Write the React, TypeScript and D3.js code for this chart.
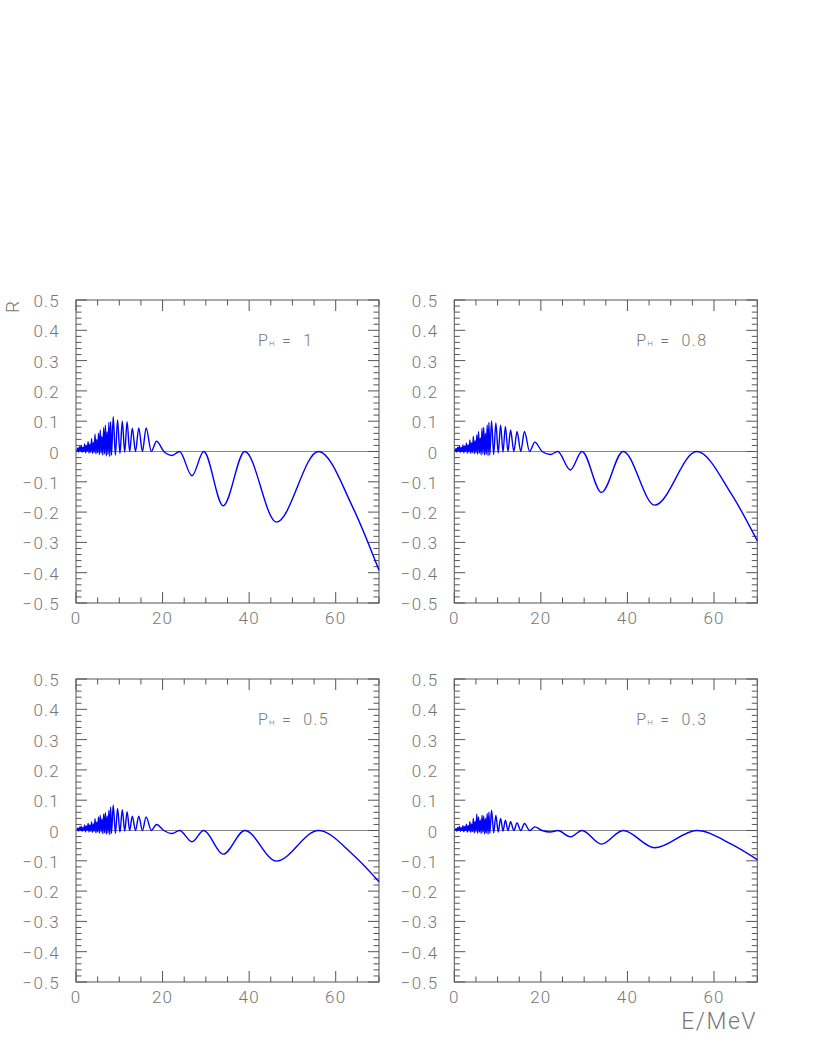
import React from 'react';
import * as d3 from 'd3';

// energies (MeV) of the points, shared by all panels
const energy = [
  0.2, 0.4, 0.6, 0.8, 1.0, 1.2, 1.4, 1.6, 1.8, 2.0, 2.2, 2.4, 2.6, 2.8, 3.0, 3.2, 3.4, 3.6, 3.8, 4.0,
  4.2, 4.4, 4.6, 4.8, 5.0, 5.2, 5.4, 5.6, 5.8, 6.0, 6.2, 6.4, 6.6, 6.8, 7.0, 7.2, 7.4, 7.6, 7.8, 8.0, 8.2,
  8.6, 9.1, 9.6, 10.15, 10.7, 11.25, 11.8, 12.4, 13.0, 13.75, 14.5, 15.35, 16.2, 17.4, 18.6,
  20.3, 22.2, 23.9, 26.8, 29.5, 34.0, 39.0, 46.3, 56.0, 64.0, 70.0,
];

// R for P_H = 1
const rPH100 = [
  0, 0.012, -0.002, 0.016, 0.002, 0.02, -0.003, 0.014, 0, 0.025, -0.004, 0.02, 0.001, 0.032, -0.005, 0.024, -0.002, 0.042, -0.006, 0.03,
  -0.003, 0.057, -0.008, 0.04, -0.004, 0.06, -0.01, 0.071, -0.006, 0.05, -0.012, 0.079, -0.008, 0.087, -0.014, 0.065, -0.01, 0.096, -0.016, 0.098, -0.012,
  0.115, -0.012, 0.104, -0.006, 0.1, -0.002, 0.098, 0, 0.077, 0, 0.078, 0, 0.078, 0, 0.034,
  0, -0.013, 0, -0.08, 0, -0.179, 0, -0.233, 0, -0.186, -0.392,
];

// R for P_H = 0.8
const rPH080 = [
  0, 0.01, -0.002, 0.014, 0.001, 0.018, -0.003, 0.013, 0, 0.022, -0.004, 0.018, 0.001, 0.027, -0.005, 0.022, -0.002, 0.038, -0.006, 0.028,
  -0.003, 0.05, -0.007, 0.036, -0.004, 0.055, -0.009, 0.066, -0.005, 0.045, -0.011, 0.077, -0.007, 0.08, -0.012, 0.06, -0.009, 0.088, -0.014, 0.096, -0.011,
  0.101, -0.01, 0.094, -0.005, 0.088, -0.002, 0.083, 0, 0.071, 0, 0.066, 0, 0.066, 0, 0.031,
  0, -0.01, 0, -0.061, 0, -0.135, 0, -0.177, 0, -0.14, -0.295,
];

// R for P_H = 0.5
const rPH050 = [
  0, 0.008, -0.002, 0.011, 0.001, 0.014, -0.003, 0.01, 0, 0.018, -0.004, 0.015, 0, 0.023, -0.005, 0.018, -0.002, 0.028, -0.006, 0.022,
  -0.003, 0.039, -0.008, 0.028, -0.004, 0.045, -0.009, 0.05, -0.005, 0.038, -0.011, 0.055, -0.007, 0.059, -0.012, 0.048, -0.009, 0.067, -0.014, 0.078, -0.01,
  0.084, -0.01, 0.073, -0.005, 0.069, -0.002, 0.062, 0, 0.047, 0, 0.047, 0, 0.045, 0, 0.02,
  0, -0.01, 0, -0.037, 0, -0.078, 0, -0.101, 0, -0.08, -0.169,
];

// R for P_H = 0.3
const rPH030 = [
  0, 0.007, -0.002, 0.01, 0.001, 0.013, -0.003, 0.009, 0, 0.016, -0.004, 0.013, 0, 0.021, -0.005, 0.016, -0.002, 0.029, -0.006, 0.022,
  -0.003, 0.04, -0.008, 0.03, -0.004, 0.054, -0.009, 0.045, -0.005, 0.035, -0.01, 0.05, -0.006, 0.048, -0.011, 0.04, -0.008, 0.056, -0.012, 0.06, -0.009,
  0.067, -0.008, 0.05, -0.005, 0.04, -0.002, 0.034, 0, 0.029, 0, 0.025, 0, 0.023, 0, 0.012,
  0, -0.005, 0, -0.021, 0, -0.045, 0, -0.057, 0, -0.045, -0.096,
];

const panelTitles = ['1', '0.8', '0.5', '0.3'];
const xTickValues = [0, 20, 40, 60];
const yTickValues = [-0.5, -0.4, -0.3, -0.2, -0.1, 0, 0.1, 0.2, 0.3, 0.4, 0.5];

const Width = 817;
const Height = 1058;
const PW = 303;
const PH = 303;
const origins = [
  [76, 300],
  [454.3, 300],
  [76, 679],
  [454.3, 679],
];
const font = 'Roboto, "DejaVu Sans", sans-serif';
const frameColor = '#555';
const labelColor = '#777';

const Panel = ({ ox, oy, values, title }) => {
  const x = d3.scaleLinear().domain([0, 70]).range([0, PW]);
  const y = d3.scaleLinear().domain([-0.5, 0.5]).range([PH, 0]);
  const line = d3
    .line()
    .x((d, i) => x(energy[i]))
    .y((d) => y(d))
    .curve(d3.curveMonotoneX);
  const fmt = (v) => (v === 0 ? '0' : d3.format('.1f')(v));

  const minorX = x.ticks(14);
  const minorY = y.ticks(50);

  return (
    <g transform={`translate(${ox}, ${oy})`}>
      {/* zero line */}
      <line x1={0} x2={PW} y1={y(0)} y2={y(0)} stroke="#888" strokeWidth={1} />

      {/* ticks on all four sides, pointing inward */}
      {minorY.map((v, i) => {
        const len = yTickValues.some((t) => Math.abs(t - v) < 1e-9) ? 11 : 5.5;
        return (
          <g key={`y${i}`} stroke={frameColor} strokeWidth={1}>
            <line x1={0} x2={len} y1={y(v)} y2={y(v)} />
            <line x1={PW} x2={PW - len} y1={y(v)} y2={y(v)} />
          </g>
        );
      })}
      {minorX.map((v, i) => {
        const len = xTickValues.includes(v) ? 11 : 5.5;
        return (
          <g key={`x${i}`} stroke={frameColor} strokeWidth={1}>
            <line x1={x(v)} x2={x(v)} y1={PH} y2={PH - len} />
            <line x1={x(v)} x2={x(v)} y1={0} y2={len} />
          </g>
        );
      })}

      <rect x={0} y={0} width={PW} height={PH} fill="none" stroke={frameColor} strokeWidth={1} />

      <path d={line(values)} fill="none" stroke="#0000ff" strokeWidth={1.4} />

      {/* tick labels */}
      {yTickValues.map((v, i) => (
        <text
          key={`yl${i}`}
          x={-16}
          y={y(v) + 1}
          textAnchor="end"
          dominantBaseline="central"
          style={{ fontSize: '17px', fontFamily: font, fontWeight: 300, letterSpacing: '1.2px' }}
          fill={labelColor}
        >
          {fmt(v)}
        </text>
      ))}
      {xTickValues.map((v, i) => (
        <text
          key={`xl${i}`}
          x={x(v)}
          y={PH + 21}
          textAnchor="middle"
          style={{ fontSize: '17px', fontFamily: font, fontWeight: 300, letterSpacing: '1.2px' }}
          fill={labelColor}
        >
          {v}
        </text>
      ))}

      {/* P_H label */}
      <text x={182} y={46} style={{ fontSize: '16px', fontFamily: font, fontWeight: 300 }} fill={labelColor}>
        P
      </text>
      <text x={193} y={46} style={{ fontSize: '8px', fontFamily: font, fontWeight: 300 }} fill={labelColor}>
        H
      </text>
      <text
        x={206}
        y={46}
        style={{ fontSize: '16px', fontFamily: font, fontWeight: 300, letterSpacing: '1.5px', whiteSpace: 'pre' }}
        fill={labelColor}
      >
        {`=  ${title}`}
      </text>
    </g>
  );
};

export default function App() {
  const series = [rPH100, rPH080, rPH050, rPH030];
  return (
    <svg width={Width} height={Height} style={{ position: 'absolute', left: 0, top: 0, background: '#fff' }}>
      {origins.map(([ox, oy], i) => (
        <Panel key={i} ox={ox} oy={oy} values={series[i]} title={panelTitles[i]} />
      ))}
      <text
        transform="translate(19, 301) rotate(-90)"
        textAnchor="end"
        style={{ fontSize: '19px', fontFamily: font, fontWeight: 300 }}
        fill={labelColor}
      >
        R
      </text>
      <text
        x={757}
        y={1029}
        textAnchor="end"
        style={{ fontSize: '23px', fontFamily: font, fontWeight: 300, letterSpacing: '1.5px' }}
        fill={labelColor}
      >
        E/MeV
      </text>
    </svg>
  );
}
